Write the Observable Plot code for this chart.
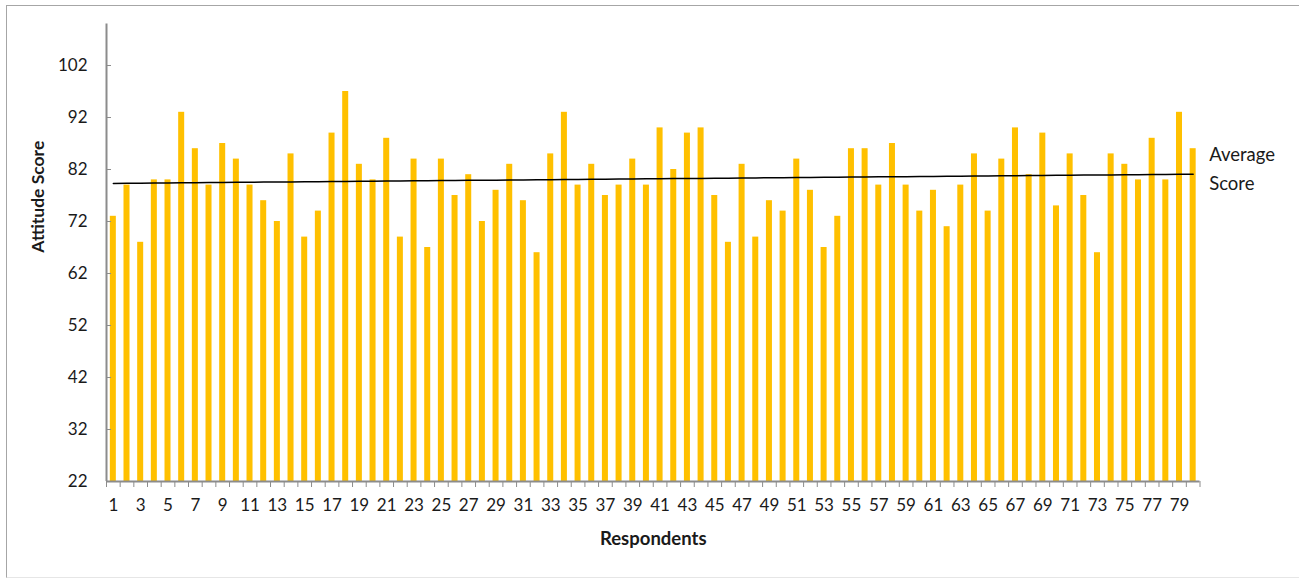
<!DOCTYPE html>
<html>
<head>
<meta charset="utf-8">
<script src="https://cdn.jsdelivr.net/npm/d3@7"></script>
<script src="https://cdn.jsdelivr.net/npm/@observablehq/plot@0.6"></script>
<style>
  html, body { margin: 0; padding: 0; background: #fff; }
  #wrap { position: relative; width: 1299px; height: 579px; overflow: hidden; }
  #box { position: absolute; left: 6px; top: 5px; width: 1400px; height: 571px;
         border: 1.5px solid #a6a6a6; border-bottom-color: #e6e6e6; pointer-events: none; }
  svg { font-family: Lato, "Open Sans", sans-serif; }
</style>
</head>
<body>
<div id="wrap"><div id="box"></div></div>
<script>
// Attitude scores of the 80 respondents
const respondents = d3.range(1, 81);
const scores = [
  73, 79, 68, 80, 80, 93, 86, 79, 87, 84,
  79, 76, 72, 85, 69, 74, 89, 97, 83, 80,
  88, 69, 84, 67, 84, 77, 81, 72, 78, 83,
  76, 66, 85, 93, 79, 83, 77, 79, 84, 79,
  90, 82, 89, 90, 77, 68, 83, 69, 76, 74,
  84, 78, 67, 73, 86, 86, 79, 87, 79, 74,
  78, 71, 79, 85, 74, 84, 90, 81, 89, 75,
  85, 77, 66, 85, 83, 80, 88, 80, 93, 86
];
const xTickLabels = respondents.filter(r => r % 2 === 1);
const yTicks = [22, 32, 42, 52, 62, 72, 82, 92, 102];
const trendLabel = "Average\nScore";

const data = respondents.map((r, i) => ({respondent: r, score: scores[i]}));

// Least-squares trend line through the scores
const mx = d3.mean(respondents), my = d3.mean(scores);
const slope = d3.sum(data, d => (d.respondent - mx) * (d.score - my)) /
              d3.sum(respondents, r => (r - mx) ** 2);
const trend = respondents.map(r => ({respondent: r, score: my + slope * (r - mx)}));

const W = 1299, H = 579, ML = 106, MR = 99.5, MT = 23.4, MB = 98;
const bw = (W - ML - MR) / respondents.length;   // one category step
const axisColor = "#8c8c8c";
const ink = "#1a1a1a";
const blank = () => "";

const chart = Plot.plot({
  width: W, height: H,
  marginLeft: ML, marginRight: MR, marginTop: MT, marginBottom: MB,
  style: {fontSize: "17px", color: ink, background: "transparent", overflow: "visible"},
  x: {type: "band", domain: respondents, paddingInner: 0.56, paddingOuter: 0.28, axis: null},
  y: {domain: [22, 110], axis: null},
  marks: [
    Plot.barY(data, {x: "respondent", y1: 22, y2: "score", fill: "#FFC000"}),
    // axis lines
    Plot.ruleY([22], {stroke: axisColor, strokeWidth: 2}),
    Plot.ruleX([1], {dx: -bw / 2, stroke: axisColor, strokeWidth: 2}),
    // x ticks between categories
    Plot.axisX(respondents, {tickSize: 6, tickFormat: blank, label: null, dx: -bw / 2, stroke: axisColor}),
    Plot.axisX([80], {tickSize: 6, tickFormat: blank, label: null, dx: bw / 2, stroke: axisColor}),
    Plot.axisX(xTickLabels, {tickSize: 0, tickPadding: 17, label: null, fill: ink}),
    // y ticks pointing inward
    Plot.axisY(yTicks, {tickSize: 5, tickFormat: blank, label: null, dx: 5, stroke: axisColor}),
    Plot.axisY(yTicks, {tickSize: 0, tickPadding: 19, label: null, fill: ink}),
    // trend line and its label
    Plot.line(trend, {x: "respondent", y: "score", stroke: "#000", strokeWidth: 1.5}),
    Plot.text([trend[trend.length - 1]], {x: "respondent", y: "score", text: () => trendLabel,
      textAnchor: "start", dx: 16, dy: -8, lineHeight: 1.55, fontSize: 18.5, fill: ink}),
    // axis titles
    Plot.text(["Attitude Score"], {frameAnchor: "left", dx: -68, rotate: -90, lineAnchor: "middle",
      fontWeight: "bold", fontSize: 17.5, fill: ink}),
    Plot.text(["Respondents"], {frameAnchor: "bottom", dy: 58, lineAnchor: "middle",
      fontWeight: "bold", fontSize: 18.5, fill: ink})
  ]
});
document.getElementById("wrap").prepend(chart);
</script>
</body>
</html>
